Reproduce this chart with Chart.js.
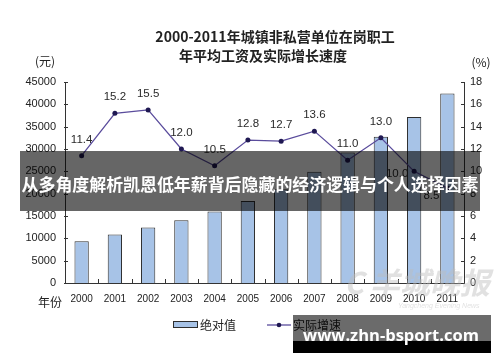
<!DOCTYPE html>
<html>
<head>
<meta charset="utf-8">
<title>2000-2011年城镇非私营单位在岗职工年平均工资及实际增长速度</title>
<script src="https://cdn.jsdelivr.net/npm/chart.js@4.4.1/dist/chart.umd.min.js"></script>
<style>
  html, body { margin: 0; padding: 0; background: #fff; }
  #wrap { position: relative; width: 500px; height: 362px; }
</style>
</head>
<body>
<div id="wrap"><canvas id="chart" width="500" height="362"></canvas></div>
<script>
'use strict'

// values
var years = ['2000', '2001', '2002', '2003', '2004', '2005', '2006', '2007', '2008', '2009', '2010', '2011']
var wages = [9371, 10870, 12422, 14040, 16024, 18364, 21001, 24932, 29229, 32736, 37147, 42452]
var growth = [11.4, 15.2, 15.5, 12.0, 10.5, 12.8, 12.7, 13.6, 11.0, 13.0, 10.0, 8.5]
var wageAxis = [0, 45000, 5000]   // min, max, step
var rateAxis = [0, 18, 2]

var titleLines = ['2000-2011年城镇非私营单位在岗职工', '年平均工资及实际增长速度']
var seriesNames = ['绝对值', '实际增速']
var unitLeft = '(元)'
var unitRight = '(%)'
var yearLabel = '年份'
var bannerText = '从多角度解析凯恩低年薪背后隐藏的经济逻辑与个人选择因素'
var siteText = 'www.zhn-bsport.com'
var logoText = '羊城晚报'
var logoSub = 'Yangcheng Evening News'

var BAR_FILL = '#a7c3e7'
var BAR_EDGE = '#2e2e2e'
var LINE_COLOR = '#5a4c9c'
var DOT_COLOR = '#1f1852'
var AXIS = '#333'
var SANS = '"Liberation Sans", Arial, sans-serif'
var CJK = '"Noto Sans CJK SC", "Noto Sans", sans-serif'

// labels that are not simply above their point
var labelNudge = { 10: [-17, 2], 11: [-16, 8] }

function fitFont(ctx, text, weight, family, width) {
  ctx.font = weight + ' 20px ' + family
  var size = 20 * width / ctx.measureText(text).width
  ctx.font = weight + ' ' + size.toFixed(2) + 'px ' + family
}

function plainNumber(value) {
  return String(value)
}

var decorations = {
  id: 'decorations',
  afterDraw: function (chart) {
    var ctx = chart.ctx
    var area = chart.chartArea
    var xs = chart.scales.x
    var ys = chart.scales.y
    var rs = chart.scales.y1
    ctx.save()

    // inward tick marks
    ctx.strokeStyle = AXIS
    ctx.lineWidth = 1
    ctx.beginPath()
    ys.ticks.forEach(function (t) {
      var py = Math.round(ys.getPixelForValue(t.value)) + 0.5
      ctx.moveTo(area.left - 1, py)
      ctx.lineTo(area.left + 3, py)
    })
    rs.ticks.forEach(function (t) {
      var py = Math.round(rs.getPixelForValue(t.value)) + 0.5
      ctx.moveTo(area.right - 3, py)
      ctx.lineTo(area.right + 1, py)
    })
    var step = xs.getPixelForValue(1) - xs.getPixelForValue(0)
    for (var i = 1; i < years.length; i++) {
      var px = Math.round(xs.getPixelForValue(i) - step / 2) + 0.5
      ctx.moveTo(px, area.bottom)
      ctx.lineTo(px, area.bottom - 4)
    }
    ctx.stroke()

    // point labels
    var meta = chart.getDatasetMeta(1)
    ctx.fillStyle = '#2a2a2a'
    ctx.font = '11.5px ' + SANS
    ctx.textAlign = 'center'
    ctx.textBaseline = 'middle'
    meta.data.forEach(function (pt, i) {
      var nudge = labelNudge[i] || [0, -16]
      ctx.fillText(growth[i].toFixed(1), pt.x + nudge[0], pt.y + nudge[1])
    })

    // titles and units
    ctx.fillStyle = '#222'
    ctx.font = 'bold 14px ' + CJK
    ctx.fillText(titleLines[0], 275, 37)
    ctx.fillText(titleLines[1], 263, 56)
    ctx.font = '12px ' + CJK
    ctx.fillText(unitLeft, 45, 61)
    ctx.fillText(unitRight, 481, 62)
    ctx.fillText(yearLabel, 50, 302)

    // legend
    ctx.fillStyle = BAR_FILL
    ctx.fillRect(173.5, 321.5, 24, 6)
    ctx.strokeStyle = BAR_EDGE
    ctx.strokeRect(173.5, 321.5, 24, 6)
    ctx.strokeStyle = LINE_COLOR
    ctx.lineWidth = 1.3
    ctx.beginPath()
    ctx.moveTo(267, 325)
    ctx.lineTo(291, 325)
    ctx.stroke()
    ctx.fillStyle = DOT_COLOR
    ctx.beginPath()
    ctx.arc(279, 325, 2.3, 0, Math.PI * 2)
    ctx.fill()
    ctx.fillStyle = '#222'
    ctx.font = '12px ' + CJK
    ctx.textAlign = 'left'
    ctx.fillText(seriesNames[0], 200, 325)
    ctx.fillText(seriesNames[1], 293, 325)

    // faint newspaper logo
    ctx.globalAlpha = 0.45
    ctx.fillStyle = '#bdbdbd'
    ctx.font = 'italic bold 30px ' + CJK
    ctx.fillText('C', 344, 283)
    ctx.fillText(logoText, 370, 283)
    ctx.font = 'italic 7px ' + SANS
    ctx.fillText(logoSub, 398, 306)
    ctx.globalAlpha = 1

    // dark banner across the middle
    ctx.fillStyle = 'rgba(0,0,0,0.6)'
    ctx.fillRect(20, 151, 460, 60)
    ctx.fillStyle = '#fff'
    ctx.textAlign = 'center'
    fitFont(ctx, bannerText, 'bold', CJK, 457)
    ctx.fillText(bannerText, 250, 185)

    // site box
    ctx.fillStyle = 'rgba(0,0,0,0.58)'
    ctx.fillRect(293, 315, 198, 26)
    ctx.fillStyle = '#000'
    ctx.fillRect(293, 341, 198, 12)
    ctx.fillStyle = '#fff'
    ctx.textAlign = 'left'
    ctx.textBaseline = 'alphabetic'
    fitFont(ctx, siteText, 'bold', '"Open Sans", "DejaVu Sans", sans-serif', 176)
    ctx.fillText(siteText, 303, 341)

    ctx.restore()
  }
}

new Chart(document.getElementById('chart'), {
  data: {
    labels: years,
    datasets: [
      {
        type: 'bar',
        label: seriesNames[0],
        data: wages,
        yAxisID: 'y',
        backgroundColor: BAR_FILL,
        borderColor: BAR_EDGE,
        borderWidth: 1,
        categoryPercentage: 1,
        barPercentage: 0.43,
        order: 2
      },
      {
        type: 'line',
        label: seriesNames[1],
        data: growth,
        yAxisID: 'y1',
        borderColor: LINE_COLOR,
        borderWidth: 1.3,
        pointRadius: 2.5,
        pointBackgroundColor: DOT_COLOR,
        pointBorderWidth: 0,
        tension: 0,
        order: 1
      }
    ]
  },
  options: {
    responsive: false,
    animation: false,
    devicePixelRatio: 1,
    layout: { padding: { top: 82, left: 0, right: 0, bottom: 0 } },
    plugins: {
      legend: { display: false },
      title: { display: false },
      tooltip: { enabled: false }
    },
    scales: {
      x: {
        offset: true,
        grid: { display: false, drawTicks: false },
        border: { display: true, color: AXIS, width: 1 },
        ticks: { color: '#222', font: { family: SANS, size: 10 }, padding: 10, maxRotation: 0 },
        afterFit: function (s) { s.height = 79 }
      },
      y: {
        position: 'left',
        min: wageAxis[0],
        max: wageAxis[1],
        grid: { display: false, drawTicks: false },
        border: { display: true, color: AXIS, width: 1 },
        ticks: { stepSize: wageAxis[2], color: '#222', font: { family: SANS, size: 11 }, padding: 9, callback: plainNumber },
        afterFit: function (s) { s.width = 65 }
      },
      y1: {
        position: 'right',
        min: rateAxis[0],
        max: rateAxis[1],
        grid: { display: false, drawTicks: false },
        border: { display: true, color: AXIS, width: 1 },
        ticks: { stepSize: rateAxis[2], color: '#222', font: { family: SANS, size: 11 }, padding: 6, callback: plainNumber },
        afterFit: function (s) { s.width = 36 }
      }
    }
  },
  plugins: [decorations]
})
</script>
</body>
</html>
